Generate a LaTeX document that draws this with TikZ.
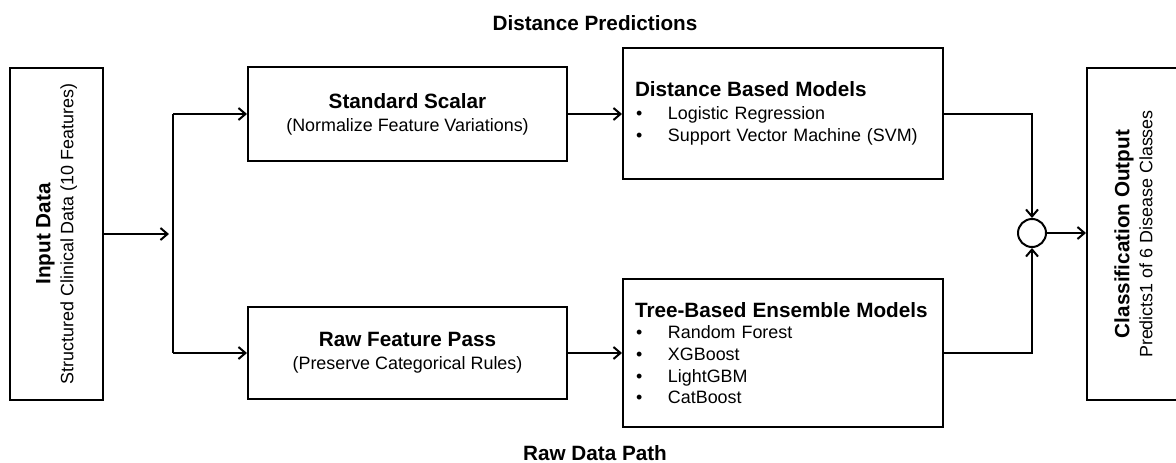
\documentclass[tikz,border=0pt]{standalone}
\usepackage{fontspec}
\setmainfont{Liberation Sans}
\usetikzlibrary{arrows.meta}
\newcommand\ttlf{\fontsize{20.7}{23}\selectfont\bfseries}
\newcommand\bodyf{\fontsize{17.9}{23}\selectfont}
\newcommand\itm[1]{\makebox[33pt][l]{\hspace{1pt}\textbullet}#1}
\begin{document}
\begin{tikzpicture}[x=1pt,y=-1pt,
  box/.style={draw,line width=2pt,rectangle,inner sep=0pt,font=\bodyf},
  conn/.style={line width=2pt,-{Straight Barb[length=7pt,width=12pt,line width=2pt]}},
  wire/.style={line width=2pt},
  lab/.style={font=\ttlf,inner sep=0pt},
]
\useasboundingbox (0,0) rectangle (1176,463);

\node[lab] (toplab) at (595,23) {Distance Predictions};
\node[lab] (botlab) at (595,453.5) {Raw Data Path};

\node[box,rotate=90,minimum width=332pt,minimum height=93pt,align=center] (in) at (56.5,234)
  {{\ttlf Input Data}\\Structured Clinical Data (10 Features)};

\node[box,minimum width=319pt,minimum height=94pt,align=center] (ss) at (407.5,114)
  {{\ttlf Standard Scalar}\\(Normalize Feature Variations)};
\node[box,minimum width=319pt,minimum height=92pt,align=center] (raw) at (407.5,353)
  {{\ttlf Raw Feature Pass}\\(Preserve Categorical Rules)};

\node[box,minimum width=320pt,minimum height=131pt,text width=296pt,align=left,font=\fontsize{17.9}{22.5}\selectfont] (dist) at (783,113.5)
  {{\ttlf Distance Based Models}\\\itm{Logistic Regression}\\\itm{Support Vector Machine (SVM)}};
\node[box,minimum width=320pt,minimum height=148pt,text width=296pt,align=left,font=\fontsize{17.9}{21.7}\selectfont] (tree) at (783,353)
  {{\ttlf Tree-Based Ensemble Models}\\\itm{Random Forest}\\\itm{XGBoost}\\\itm{LightGBM}\\\itm{CatBoost}};

\node[draw,circle,line width=2pt,minimum size=28pt,inner sep=0pt] (c) at (1032,233) {};

\node[box,rotate=90,minimum width=332pt,minimum height=93pt,align=center] (out) at (1133.5,234)
  {{\ttlf Classification Output}\\Predicts1 of 6 Disease Classes};

\coordinate (split) at (173,234);
\draw[conn,shorten >=4pt] (in.south |- split) -- (split);
\draw[wire] (split |- ss.west) -- (split |- raw.west);
\draw[conn] (split |- ss.west) -- (ss.west);
\draw[conn] (split |- raw.west) -- (raw.west);
\draw[conn] (ss.east) -- (dist.west |- ss.east);
\draw[conn] (raw.east) -- (tree.west);
\draw[conn] (dist.east) -| (c.north);
\draw[conn] (tree.east) -| (c.south);
\draw[conn] (c.east) -- (c.east -| out.north);
\end{tikzpicture}
\end{document}
